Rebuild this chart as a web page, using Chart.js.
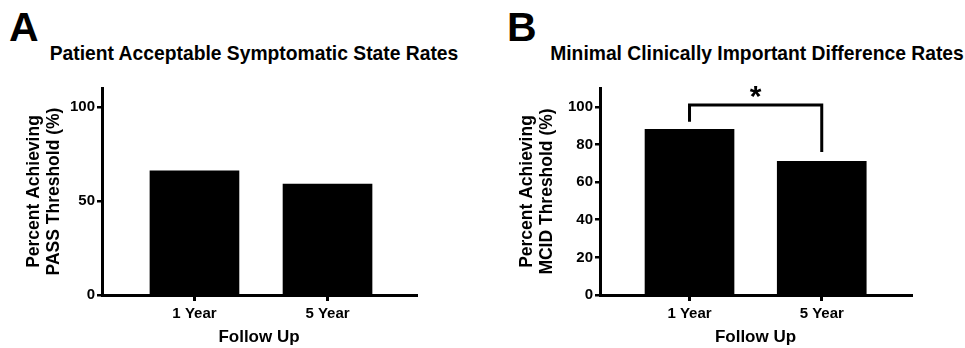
<!DOCTYPE html>
<html><head><meta charset="utf-8">
<script src="https://cdn.jsdelivr.net/npm/chart.js@4"></script>
<style>
html,body{margin:0;padding:0;background:#fff}
body{width:965px;height:348px;position:relative;overflow:hidden;font-family:"Liberation Sans",Arial,sans-serif;font-weight:bold;color:#000}
.lbl{position:absolute;line-height:1;white-space:nowrap}
.ttl{position:absolute;line-height:1;white-space:nowrap;text-align:center;width:500px;font-size:19.3px}
#ca{position:absolute;left:0;top:0}
#cb{position:absolute;left:480px;top:0}
</style></head><body>
<div class="lbl" style="left:9px;top:7px;font-size:41px">A</div>
<div class="ttl" style="left:4px;top:44px">Patient Acceptable Symptomatic State Rates</div>
<div class="lbl" style="left:507px;top:7px;font-size:41px">B</div>
<div class="ttl" style="left:507px;top:44px">Minimal Clinically Important Difference Rates</div>
<canvas id="ca" width="480" height="348"></canvas>
<canvas id="cb" width="485" height="348"></canvas>
<script>
// ---- data ----
const categories = ['1 Year', '5 Year'];
const passRates = [66, 59];
const mcidRates = [88, 71];
const yTicksA = [0, 50, 100];
const yTicksB = [0, 20, 40, 60, 80, 100];
const yMax = 110;
const bracketB = [92, 101, 76];   // left leg end, bracket top, right leg end
const sigLabel = '*';
const xTitle = 'Follow Up';
const yTitleA = ['Percent Achieving', 'PASS Threshold (%)'];
const yTitleB = ['Percent Achieving', 'MCID Threshold (%)'];

const FONT = '"Liberation Sans", Arial, sans-serif';

const sigPlugin = {
  id: 'sig',
  afterDatasetsDraw(chart) {
    const {ctx, scales: {x, y}} = chart;
    const x0 = x.getPixelForValue(0), x1 = x.getPixelForValue(1);
    const yl = y.getPixelForValue(bracketB[0]);
    const yt = y.getPixelForValue(bracketB[1]);
    const yr = y.getPixelForValue(bracketB[2]);
    ctx.save();
    ctx.strokeStyle = '#000';
    ctx.lineWidth = 3;
    ctx.lineCap = 'butt';
    ctx.lineJoin = 'miter';
    ctx.beginPath();
    ctx.moveTo(x0, yl); ctx.lineTo(x0, yt); ctx.lineTo(x1, yt); ctx.lineTo(x1, yr);
    ctx.stroke();
    ctx.fillStyle = '#000';
    ctx.font = 'bold 30px ' + FONT;
    ctx.textAlign = 'center';
    ctx.textBaseline = 'alphabetic';
    ctx.fillText(sigLabel, (x0 + x1) / 2, yt + 1);
    ctx.restore();
  }
};

function makeChart(id, values, yTicks, yTitle, xRange, yAxisWidth, padRight, titlePadTop, plugins) {
  return new Chart(document.getElementById(id), {
    type: 'bar',
    data: {
      datasets: [{
        data: values.map((v, i) => ({x: i, y: v})),
        backgroundColor: '#000',
        borderWidth: 0,
        barThickness: 89
      }]
    },
    options: {
      responsive: false,
      animation: false,
      layout: {padding: {top: 88, right: padRight, left: 0, bottom: 0}},
      plugins: {legend: {display: false}, tooltip: {enabled: false}},
      scales: {
        x: {
          type: 'linear', min: xRange[0], max: xRange[1], offset: false,
          afterBuildTicks: s => { s.ticks = categories.map((c, i) => ({value: i})); },
          ticks: {callback: v => categories[v], color: '#000', font: {family: FONT, size: 15, weight: 'bold'},
                  padding: 4, maxRotation: 0, autoSkip: false},
          grid: {offset: false, display: true, drawOnChartArea: false, drawTicks: true, tickLength: 6, tickColor: '#000', tickWidth: 3, color: '#000', lineWidth: 3},
          border: {display: true, color: '#000', width: 3},
          title: {display: true, text: xTitle, color: '#000', font: {family: FONT, size: 17, weight: 'bold'},
                  padding: {top: 0, bottom: 0}},
          afterFit: s => { s.height = 53; }
        },
        y: {
          min: 0, max: yMax,
          afterBuildTicks: s => { s.ticks = yTicks.map(v => ({value: v})); },
          ticks: {color: '#000', font: {family: FONT, size: 15, weight: 'bold'}, padding: 2},
          grid: {offset: false, drawOnChartArea: false, drawTicks: true, tickLength: 5, tickColor: '#000', tickWidth: 2.5, color: '#000', lineWidth: 2.5},
          border: {color: '#000', width: 3},
          title: {display: true, text: yTitle, color: '#000', font: {family: FONT, size: 17.5, weight: 'bold', lineHeight: 1.15},
                  padding: {top: titlePadTop, bottom: 0}},
          afterFit: s => { s.width = yAxisWidth; }
        }
      }
    },
    plugins: plugins
  });
}

makeChart('ca', passRates, yTicksA, yTitleA, [-0.695, 1.665], 102, 64, 24, []);
makeChart('cb', mcidRates, yTicksB, yTitleB, [-0.677, 1.675], 120, 54, 37, [sigPlugin]);
</script>
</body></html>
